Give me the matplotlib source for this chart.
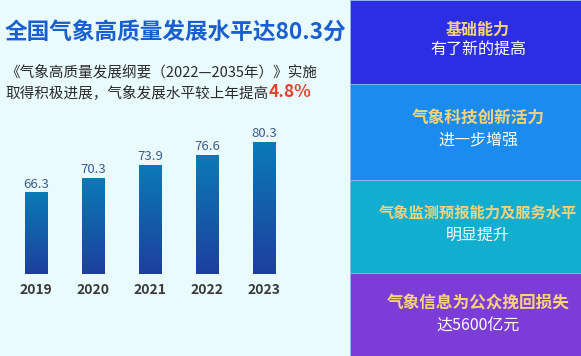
import numpy as np
import matplotlib
matplotlib.use("Agg")
from matplotlib import pyplot as plt
from matplotlib.colors import LinearSegmentedColormap
from matplotlib.patches import Rectangle

plt.rcParams['font.family'] = ['Noto Sans CJK SC', 'DejaVu Sans']

# data
years = ['2019', '2020', '2021', '2022', '2023']
scores = [66.3, 70.3, 73.9, 76.6, 80.3]

title = '全国气象高质量发展水平达80.3分'
sub1 = '《气象高质量发展纲要（2022—2035年）》实施'
sub2 = '取得积极进展，气象发展水平较上年提高'
sub2_hl = '4.8%'

panel_heads = ['基础能力', '气象科技创新活力', '气象监测预报能力及服务水平', '气象信息为公众挽回损失']
panel_subs = ['有了新的提高', '进一步增强', '明显提升', '达5600亿元']
panel_colors = ['#2c2ee6', '#1a8cf0', '#12aed0', '#7c3cd8']
panel_edges = [0, 84, 180, 273, 356]  # pixel rows

W, H = 581, 356
fig = plt.figure(figsize=(W / 100, H / 100), dpi=100)
fig.patch.set_facecolor('#eafbfd')

def fx(px):
    return px / W

def fy(py):
    return 1 - py / H

# right panels
for i, c in enumerate(panel_colors):
    y0, y1 = panel_edges[i], panel_edges[i + 1]
    fig.patches.append(Rectangle((fx(350), fy(y1)), fx(W - 350), (y1 - y0) / H,
                                 transform=fig.transFigure, facecolor=c,
                                 edgecolor='#8fb8f0', linewidth=0.6, zorder=0))

head_y = [30, 118, 213, 303]
sub_y = [50, 140, 235, 325]
head_size = [11.5, 12, 11, 12]
for i in range(4):
    fig.text(fx(478), fy(head_y[i]), panel_heads[i], color='#f6d27a', fontsize=head_size[i],
             fontweight='bold', ha='center', va='center')
    fig.text(fx(478), fy(sub_y[i]), panel_subs[i], color='white', fontsize=11.5,
             ha='center', va='center')

# titles
fig.text(fx(5), fy(33), title, color='#1a5fd2', fontsize=16.3, fontweight='bold',
         ha='left', va='center')
fig.text(fx(5), fy(72), sub1, color='#2a2a2a', fontsize=10.5, ha='left', va='center')
t2 = fig.text(fx(5), fy(93), sub2, color='#2a2a2a', fontsize=10.5, ha='left', va='center')
fig.canvas.draw()
bb = t2.get_window_extent()
fig.text(bb.x1 / W, fy(92), sub2_hl, color='#e8402a', fontsize=12.5, fontweight='bold',
         ha='left', va='center')

# bar chart
ax = fig.add_axes([0, (H - 274) / H, 350 / W, 174 / H])
ax.set_facecolor('none')
ax.axis('off')
ymin = 43.9
ax.set_xlim(-0.632, 5.508)
ax.set_ylim(ymin, ymin + 174 / 3.64)

cmap = LinearSegmentedColormap.from_list('barg', ['#1d3f9e', '#0a7bb6'])
grad = np.linspace(0, 1, 256).reshape(-1, 1)
x = np.arange(len(years))
bars = ax.bar(x, [s - ymin for s in scores], bottom=ymin, width=0.386,
              color='none', edgecolor='#b8d8ee', linewidth=0.5)
for b, s, yr in zip(bars, scores, years):
    bx, by = b.get_x(), b.get_y()
    im = ax.imshow(grad, cmap=cmap, origin='lower', aspect='auto',
                   extent=[bx, bx + b.get_width(), by, by + b.get_height()], zorder=1)
    im.set_clip_path(b)
    ax.annotate(f'{s:.1f}', (b.get_x() + b.get_width() / 2, s), xytext=(0, 6),
                textcoords='offset points', ha='center', va='center',
                color='#3a5d8f', fontsize=9.5, annotation_clip=False)
    ax.annotate(yr, (b.get_x() + b.get_width() / 2, ymin), xytext=(0, -11.5),
                textcoords='offset points', ha='center', va='center',
                color='#3a3a3a', fontsize=10, fontweight='bold', annotation_clip=False)
ax.set_xlim(-0.632, 5.508)
ax.set_ylim(ymin, ymin + 174 / 3.64)

fig.savefig('out.png', dpi=100)
